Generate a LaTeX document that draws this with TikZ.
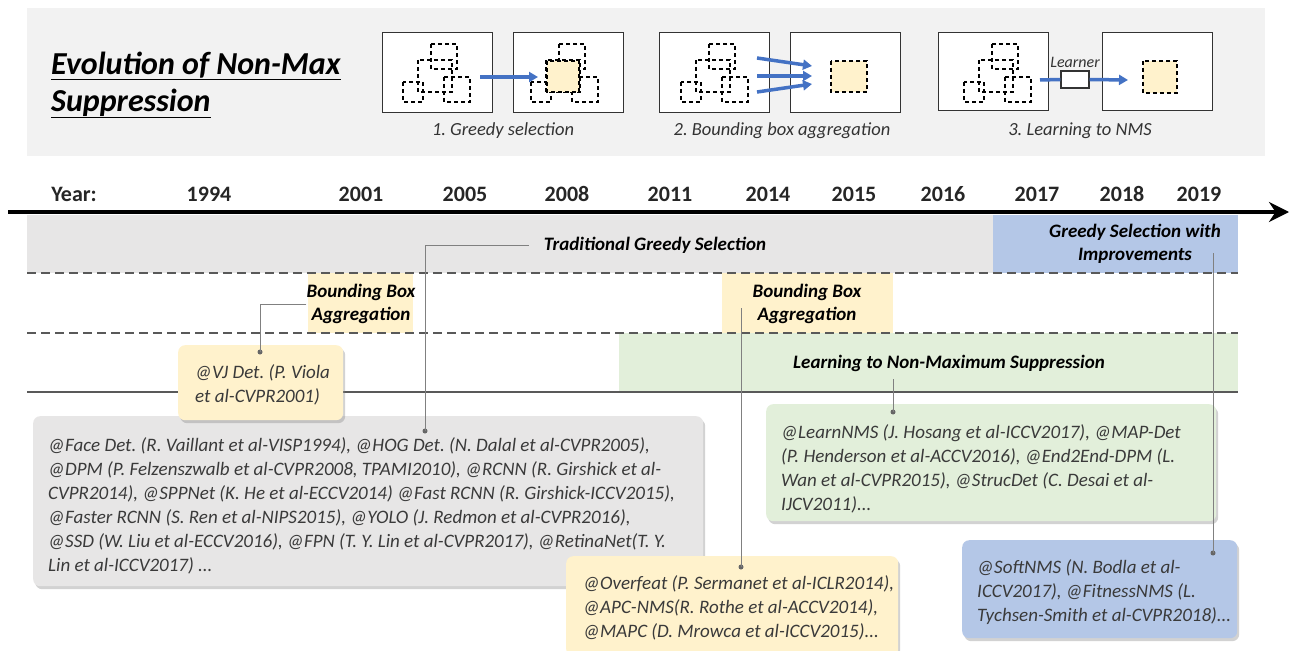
\documentclass[tikz,border=0pt]{standalone}
\usepackage{fontspec}
\setmainfont{Carlito}
\frenchspacing
\usetikzlibrary{arrows.meta,shadows,positioning}

\definecolor{panelbg}{HTML}{F2F2F2}
\definecolor{greyband}{HTML}{E7E6E6}
\definecolor{blueband}{HTML}{B4C7E7}
\definecolor{yellowband}{HTML}{FFF2CC}
\definecolor{greenband}{HTML}{E2EFDA}
\definecolor{arrowblue}{HTML}{4472C4}
\definecolor{linegrey}{HTML}{595959}
\definecolor{textgrey}{HTML}{3A3A3A}

\begin{document}
\begin{tikzpicture}[x=1pt, y=-1pt,
  imgbox/.style = {draw=black!80, line width=1.3pt, fill=white, minimum width=110pt, minimum height=80pt, anchor=north west, inner sep=0},
  dbox/.style = {draw=black, line width=1.1pt, dash pattern=on 4pt off 3pt},
  hitbox/.style = {dbox, fill=yellowband},
  blue arrow/.style = {draw=arrowblue, line width=3.5pt, -{Triangle[length=9pt,width=10pt]}},
  caplbl/.style = {font=\fontsize{18.5}{22}\selectfont\itshape, text=black!80},
  yearlbl/.style = {font=\fontsize{22}{26}\selectfont\bfseries, text=black!85},
  bandlbl/.style = {font=\fontsize{19}{23}\selectfont\bfseries\itshape, align=center, inner sep=0},
  bandsep/.style = {draw=linegrey, line width=2pt, dash pattern=on 9pt off 5pt},
  refbox/.style = {rounded corners=7pt, drop shadow={opacity=0.35, shadow xshift=2pt, shadow yshift=-3pt}, inner sep=0pt, anchor=north west},
  reftext/.style = {font=\fontsize{19}{24}\selectfont\itshape, text=textgrey, align=left, inner sep=0pt, anchor=west},
  link/.style = {draw=black!50, line width=1pt},
  dotmark/.style = {circle, fill=black!60, inner sep=0, minimum size=5pt},
  nmsboxes/.pic = {
    \draw[dbox] (49,12) rectangle (75,37);
    \draw[dbox] (36,28) rectangle (70,60);
    \draw[dbox] (21,50) rectangle (41,70);
    \draw[dbox] (62,45) rectangle (88,70);
  }]
\useasboundingbox (0,0) rectangle (1289,650);
\fill[white] (0,0) rectangle (1289,650);

% top panel
\fill[panelbg] (27,8) rectangle (1265,156);
\node[anchor=west, font=\fontsize{32}{37}\selectfont\bfseries\itshape, align=left, inner sep=0] (title) at (51,85)
  {\underline{Evolution of Non-Max}\\\underline{Suppression}};

\node[imgbox] (g1) at (382,32) {};
\node[imgbox] (g2) at (513,32) {};
\node[imgbox] (a1) at (659,32) {};
\node[imgbox] (a2) at (790,32) {};
\node[imgbox, minimum height=78pt] (l1) at (938,32) {};
\node[imgbox, minimum height=78pt] (l2) at (1102,32) {};

\pic at (382,32) {nmsboxes};
\pic at (510,32) {nmsboxes};
\draw[hitbox] (547,61) rectangle (579,92);
\pic at (660,32) {nmsboxes};
\draw[hitbox] (831,61) rectangle (867,92);
\pic at (943,32) {nmsboxes};
\draw[hitbox] (1143,61) rectangle (1177,93);

\coordinate (g1out) at (480,77);
\coordinate (g2in) at (538,77);
\draw[blue arrow] (g1out) -- (g2in);
\foreach \i/\ys/\ye in {1/58/66, 2/76/76, 3/92/84} {
  \coordinate (aout\i) at (757,\ys);
  \coordinate (ain\i) at (812,\ye);
  \draw[blue arrow] (aout\i) -- (ain\i);
}
\node[draw=black!80, line width=1.3pt, fill=white, minimum width=28pt, minimum height=17pt, inner sep=0] (learner) at (1075,79.5) {};
\node[caplbl, font=\fontsize{16}{18}\selectfont\itshape, above=3pt of learner, inner sep=0] (learnerlbl) {Learner};
\coordinate (l1out) at (1040,80);
\coordinate (l2in) at (1128,80);
\draw[draw=arrowblue, line width=3.5pt] (l1out) -- (learner.west);
\draw[blue arrow] (learner.east) -- (l2in);

\node[caplbl] (cap1) at (503,131) {1. Greedy selection};
\node[caplbl] (cap2) at (782,131) {2. Bounding box aggregation};
\node[caplbl] (cap3) at (1080,131) {3. Learning to NMS};

% timeline
\node[yearlbl] (yearhead) at (74,194) {Year:};
\foreach \yr/\xp in {1994/209, 2001/361, 2005/465, 2008/567, 2011/670, 2014/768, 2015/854, 2016/943, 2017/1037, 2018/1122, 2019/1199}
  \node[yearlbl] (y\yr) at (\xp,194) {\yr};
\coordinate (tlstart) at (8,212);
\coordinate (tlend) at (1289,212);
\draw[line width=4pt, -{Stealth[length=20pt, width=20pt]}] (tlstart) -- (tlend);

\fill[greyband] (27,215) rectangle (993,273);
\fill[blueband] (993,215) rectangle (1238,273);
\fill[yellowband] (308,273) rectangle (413,333);
\fill[yellowband] (722,273) rectangle (893,333);
\fill[greenband] (619,333) rectangle (1238,392);
\draw[bandsep] (27,273) -- (1238,273);
\draw[bandsep] (27,333) -- (1238,333);
\draw[draw=linegrey, line width=2pt] (27,392) -- (1238,392);

\node[bandlbl] (tgs) at (655,245) {Traditional Greedy Selection};
\node[bandlbl] (gsi) at (1135,244) {Greedy Selection with\\Improvements};
\node[bandlbl] (bba1) at (361,304) {Bounding Box\\Aggregation};
\node[bandlbl] (bba2) at (807,304) {Bounding Box\\Aggregation};
\node[bandlbl] (lnms) at (949,363) {Learning to Non-Maximum Suppression};

% callouts
\node[refbox, fill=greyband, minimum width=670pt, minimum height=170pt] (greedy) at (33,416) {};
\node[reftext] (greedytxt) at ([xshift=15pt, yshift=-5pt]greedy.west)
  {@Face Det. (R. Vaillant et al-VISP1994), @HOG Det. (N. Dalal et al-CVPR2005),\\
   @DPM (P. Felzenszwalb et al-CVPR2008, TPAMI2010), @RCNN (R. Girshick et al-\\
   CVPR2014), @SPPNet (K. He et al-ECCV2014) @Fast RCNN (R. Girshick-ICCV2015),\\
   @Faster RCNN (S. Ren et al-NIPS2015), @YOLO (J. Redmon et al-CVPR2016),\\
   @SSD (W. Liu et al-ECCV2016), @FPN (T. Y. Lin et al-CVPR2017), @RetinaNet(T. Y.\\
   Lin et al-ICCV2017) ...};
\node[refbox, fill=yellowband, minimum width=165pt, minimum height=75pt] (vj) at (178,345) {};
\node[reftext] (vjtxt) at ([xshift=17pt, yshift=-2pt]vj.west) {@VJ Det. (P. Viola\\et al-CVPR2001)};
\node[refbox, fill=yellowband, minimum width=332pt, minimum height=100pt] (apc) at (566,556) {};
\node[reftext] (apctxt) at ([xshift=17pt, yshift=-2pt]apc.west)
  {@Overfeat (P. Sermanet et al-ICLR2014),\\
   @APC-NMS(R. Rothe et al-ACCV2014),\\
   @MAPC (D. Mrowca et al-ICCV2015)...};
\node[refbox, fill=greenband, minimum width=450pt, minimum height=117pt] (learn) at (766,404) {};
\node[reftext] (learntxt) at ([xshift=15pt, yshift=-6pt]learn.west)
  {@LearnNMS (J. Hosang et al-ICCV2017), @MAP-Det\\
   (P. Henderson et al-ACCV2016), @End2End-DPM (L.\\
   Wan et al-CVPR2015), @StrucDet (C. Desai et al-\\
   IJCV2011)...};
\node[refbox, fill=blueband, minimum width=275pt, minimum height=98pt] (soft) at (962,540) {};
\node[reftext] (softtxt) at ([xshift=15pt, yshift=-3pt]soft.west)
  {@SoftNMS (N. Bodla et al-\\
   ICCV2017), @FitnessNMS (L.\\
   Tychsen-Smith et al-CVPR2018)...};

\node[dotmark] (vjdot) at (260,352) {};
\node[dotmark] (facedot) at (425,431) {};
\node[dotmark] (apcdot) at (741,567) {};
\node[dotmark] (learndot) at (893,412) {};
\node[dotmark] (softdot) at (1213,553) {};
\coordinate (bba2tip) at (741,308);
\coordinate (lnmstip) at (893,379);
\coordinate (gsitip) at (1213,253);

\draw[link] (bba1.west) -| (vjdot.center);
\draw[link] ([xshift=-15pt]tgs.west) -| (facedot.center);
\draw[link] (bba2tip) -- (apcdot.center);
\draw[link] (lnmstip) -- (learndot.center);
\draw[link] (gsitip) -- (softdot.center);
\end{tikzpicture}
\end{document}
